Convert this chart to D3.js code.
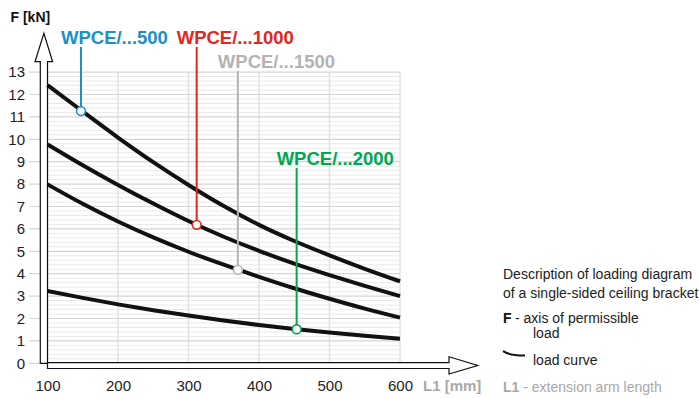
<!DOCTYPE html>
<html>
<head>
<meta charset="utf-8">
<script src="https://cdn.jsdelivr.net/npm/d3@7"></script>
<style>
  html, body { margin: 0; padding: 0; background: #fff; }
  svg { display: block; font-family: "Liberation Sans", Arial, Helvetica, sans-serif; }
</style>
</head>
<body>
<svg id="chart" width="699" height="398"></svg>
<script>
// ---------- data ----------
const lengths = [100, 150, 200, 250, 300, 350, 400, 450, 500, 550, 600];      // L1 [mm]
const load500  = [12.42, 11.24, 10.08, 8.98, 7.96, 7.02, 6.18, 5.46, 4.82, 4.22, 3.66];
const load1000 = [9.77, 8.84, 7.96, 7.13, 6.35, 5.65, 5.02, 4.45, 3.94, 3.46, 3.0];
const load1500 = [7.99, 7.12, 6.33, 5.62, 4.98, 4.40, 3.86, 3.35, 2.88, 2.44, 2.04];
const load2000 = [3.23, 2.92, 2.63, 2.37, 2.13, 1.91, 1.71, 1.53, 1.37, 1.23, 1.10];

const seriesNames  = ["WPCE/...500", "WPCE/...1000", "WPCE/...1500", "WPCE/...2000"];
const markerL      = [147.5, 311.6, 370, 453.4];
const markerF      = [11.26, 6.18, 4.17, 1.52];

const xTicks = [100, 200, 300, 400, 500, 600];
const yTicks = [0, 1, 2, 3, 4, 5, 6, 7, 8, 9, 10, 11, 12, 13];

// ---------- layout / style ----------
const seriesColors = ["#1b8fc7", "#e3261b", "#b3b3b3", "#00a651"];
const labelLevel   = [14.25, 14.25, 13.17, 8.85];   // label baseline in F units

const svg = d3.select("#chart");
const x = d3.scaleLinear().domain([100, 600]).range([47.5, 400]);
const y = d3.scaleLinear().domain([0, 13]).range([363.3, 72.1]);

// grid: minor horizontals
const minor = d3.range(0, 13.0001, 0.2).filter(v => Math.abs(v - Math.round(v)) > 1e-6);
svg.append("g").selectAll("line").data(minor).join("line")
  .attr("x1", x(100)).attr("x2", x(600))
  .attr("y1", d => y(d)).attr("y2", d => y(d))
  .attr("stroke", "#e9e9e9").attr("stroke-width", 1);

// verticals
svg.append("g").selectAll("line").data(xTicks).join("line")
  .attr("x1", d => x(d)).attr("x2", d => x(d))
  .attr("y1", y(13)).attr("y2", y(0))
  .attr("stroke", "#e2e2e2").attr("stroke-width", 1.5);

// major horizontals (extend to the left as ticks)
svg.append("g").selectAll("line").data(yTicks).join("line")
  .attr("x1", 29).attr("x2", x(600))
  .attr("y1", d => y(d)).attr("y2", d => y(d))
  .attr("stroke", "#d6d6d6").attr("stroke-width", 1.2);

// y axis labels
const yAxis = svg.append("g").attr("transform", "translate(40,0)")
  .call(d3.axisLeft(y).tickValues(yTicks).tickSize(0).tickPadding(15));
yAxis.select(".domain").remove();
yAxis.selectAll("text").attr("font-size", 15).attr("fill", "#222")
  .attr("font-family", "'Liberation Sans', Arial, sans-serif");

// x axis labels
const xAxis = svg.append("g").attr("transform", "translate(0,368.5)")
  .call(d3.axisBottom(x).tickValues(xTicks).tickSize(0).tickPadding(11.5));
xAxis.select(".domain").remove();
xAxis.selectAll("text").attr("font-size", 15).attr("fill", "#222")
  .attr("font-family", "'Liberation Sans', Arial, sans-serif");

// hollow axis arrows
const yl = 40.3, yr = x(100), y0 = y(0);
svg.append("path")
  .attr("d", `M${yl},${y0} L${yl},61.7 L35,61.7 L${(yl + yr) / 2},33.3 L52.6,61.7 L${yr},61.7 L${yr},${y0} Z`)
  .attr("fill", "#fff").attr("stroke", "#111").attr("stroke-width", 1.2);
svg.append("path")
  .attr("d", `M${yr},${y0 - 0.6} L449,${y0 - 0.6} L449,356.7 L477.7,365.5 L449,374 L449,368.5 L${yr},368.5 Z`)
  .attr("fill", "#fff").attr("stroke", "#111").attr("stroke-width", 1.2);

// curves
const allLoads = [load500, load1000, load1500, load2000];
const line = d3.line().x(d => x(d[0])).y(d => y(d[1])).curve(d3.curveMonotoneX);
svg.append("g").selectAll("path").data(allLoads).join("path")
  .attr("d", vals => line(lengths.map((l, i) => [l, vals[i]])))
  .attr("fill", "none").attr("stroke", "#111").attr("stroke-width", 4);

// leader lines, labels and markers
seriesNames.forEach((name, i) => {
  const mx = x(markerL[i]);
  const g = svg.append("g");
  g.append("line")
    .attr("x1", mx).attr("x2", mx)
    .attr("y1", y(labelLevel[i]) + 2.8).attr("y2", y(markerF[i]))
    .attr("stroke", seriesColors[i]).attr("stroke-width", 2);
  g.append("circle")
    .attr("cx", mx).attr("cy", y(markerF[i])).attr("r", 4.4)
    .attr("fill", "#fff").attr("stroke", seriesColors[i]).attr("stroke-width", 1.6);
  g.append("text")
    .attr("x", mx - 20).attr("y", y(labelLevel[i]))
    .attr("font-size", 18.5).attr("font-weight", "bold")
    .attr("fill", seriesColors[i]).text(name);
});

// axis titles
svg.append("text").attr("x", 10.5).attr("y", 21.7)
  .attr("font-size", 14).attr("font-weight", "bold").attr("fill", "#111").text("F [kN]");
svg.append("text").attr("x", 423).attr("y", 390.7)
  .attr("font-size", 15).attr("font-weight", "bold").attr("fill", "#a8a8a8").text("L1 [mm]");

// description block
const desc = svg.append("g").attr("font-size", 14).attr("fill", "#222");
desc.append("text").attr("x", 503).attr("y", 279).text("Description of loading diagram");
desc.append("text").attr("x", 503).attr("y", 297.5).text("of a single-sided ceiling bracket");
const fLine = desc.append("text").attr("x", 503).attr("y", 323.3);
fLine.append("tspan").attr("font-weight", "bold").attr("fill", "#111").text("F");
fLine.append("tspan").attr("x", 515).text("- axis of permissible");
desc.append("text").attr("x", 533).attr("y", 338.3).text("load");
desc.append("path").attr("d", "M503,351.2 Q510,355.8 525,355.6")
  .attr("fill", "none").attr("stroke", "#111").attr("stroke-width", 2);
desc.append("text").attr("x", 533).attr("y", 365).text("load curve");
const lLine = desc.append("text").attr("x", 503).attr("y", 391.5).attr("fill", "#a8a8a8");
lLine.append("tspan").attr("font-weight", "bold").text("L1");
lLine.append("tspan").text(" - extension arm length");
</script>
</body>
</html>
